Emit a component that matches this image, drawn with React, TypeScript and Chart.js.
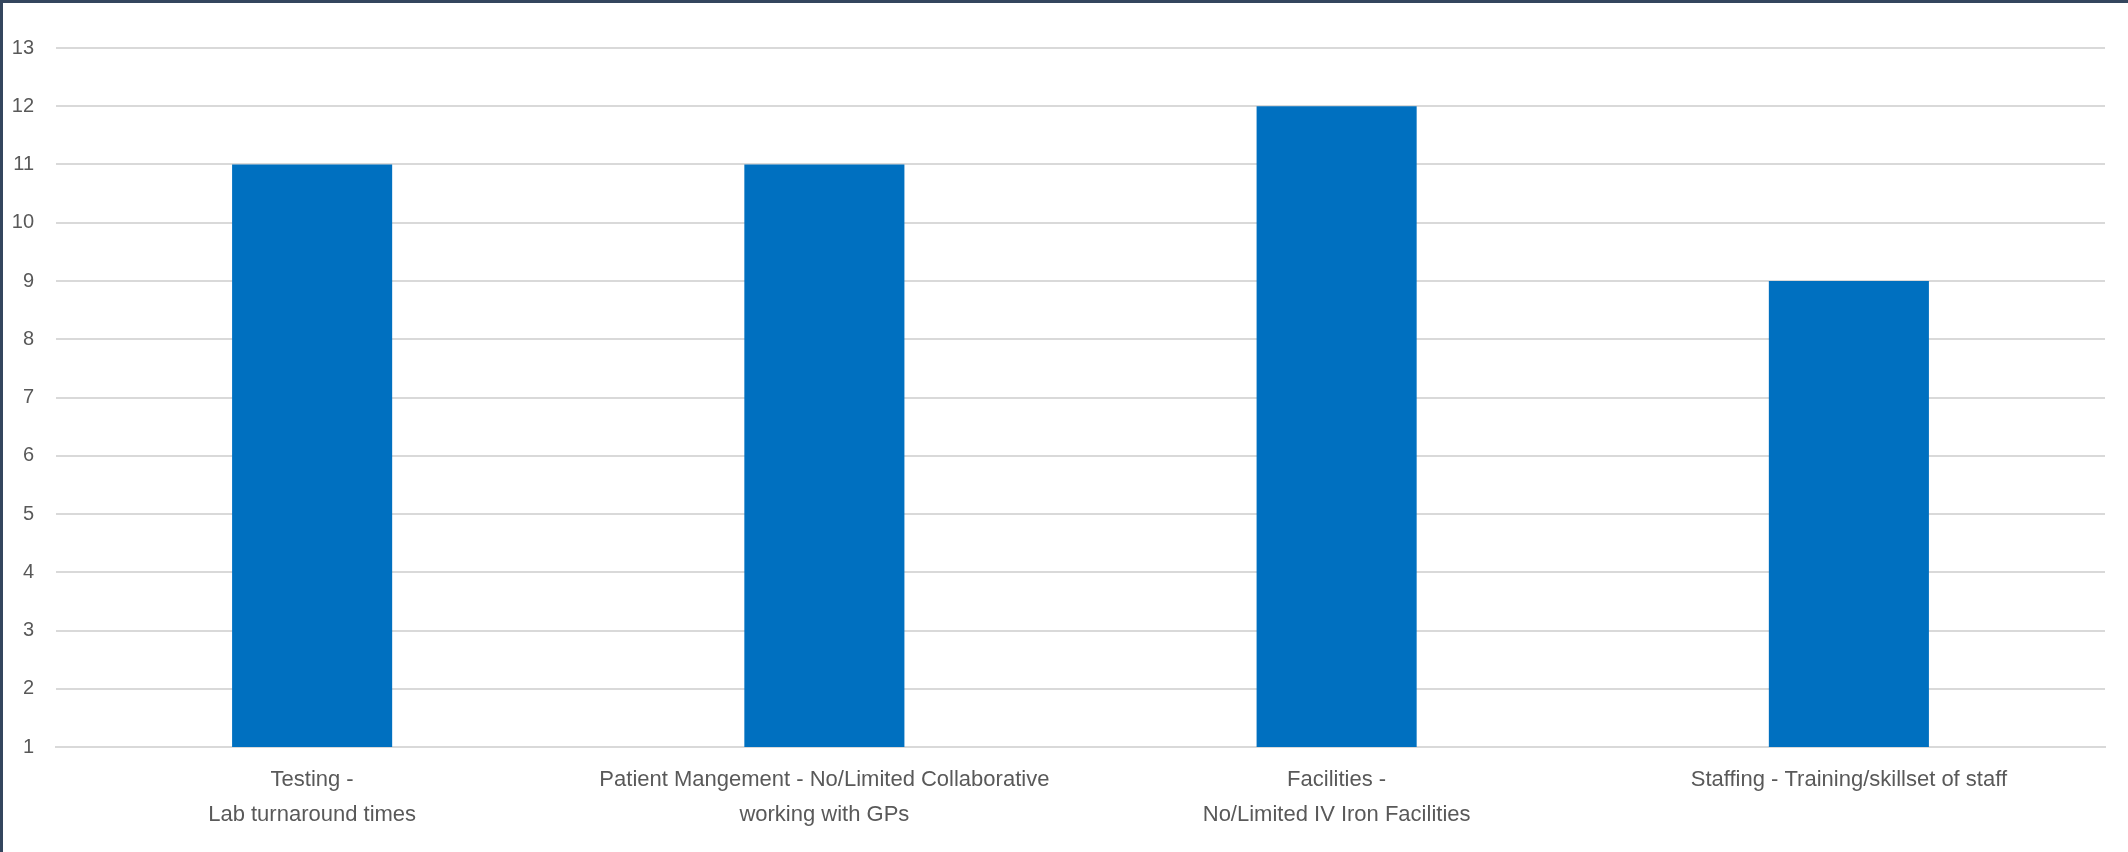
import React, { useEffect, useRef } from "react";
import { Chart, registerables } from "chart.js";

Chart.register(...registerables);

const categories: (string | string[])[] = [
  ["Testing -", "Lab turnaround times"],
  ["Patient Mangement - No/Limited Collaborative", "working with GPs"],
  ["Facilities -", "No/Limited IV Iron Facilities"],
  "Staffing - Training/skillset of staff",
];
const counts: number[] = [11, 11, 12, 9];
const yMin = 1;
const yMax = 13;

const W = 2128;
const H = 852;

export default function App() {
  const ref = useRef<HTMLCanvasElement | null>(null);

  useEffect(() => {
    document.body.style.margin = "0";
    const canvas = ref.current;
    if (!canvas) return;
    const chart = new Chart(canvas, {
      type: "bar",
      data: {
        labels: categories,
        datasets: [
          {
            data: counts,
            backgroundColor: "#0070C0",
            borderWidth: 0,
            barPercentage: 0.3125,
            categoryPercentage: 1,
          },
        ],
      },
      options: {
        responsive: false,
        animation: false,
        devicePixelRatio: 1,
        layout: { padding: { top: 48, right: 23, bottom: 0, left: 0 } },
        plugins: {
          legend: { display: false },
          tooltip: { enabled: false },
        },
        scales: {
          x: {
            grid: { display: false, drawTicks: false },
            border: { display: true, color: "#d9d9d9", width: 2 },
            ticks: {
              color: "#595959",
              font: { family: "'Liberation Sans', Arial, sans-serif", size: 22, lineHeight: "35px" as any },
              padding: 15,
              maxRotation: 0,
              autoSkip: false,
            },
            afterFit: (s: any) => {
              s.height = 105;
            },
          },
          y: {
            min: yMin,
            max: yMax,
            grid: { color: "#d9d9d9", lineWidth: 2, drawTicks: false },
            border: { display: false },
            ticks: {
              stepSize: 1,
              color: "#595959",
              font: { family: "'Liberation Sans', Arial, sans-serif", size: 20 },
              padding: 22,
            },
            afterFit: (s: any) => {
              s.width = 56;
            },
          },
        },
      },
    });
    return () => chart.destroy();
  }, []);

  return (
    <div style={{ position: "absolute", left: 0, top: 0, width: W, height: H, background: "#fff" }}>
      <canvas ref={ref} width={W} height={H} style={{ width: W, height: H, display: "block" }} />
      <div
        style={{
          position: "absolute",
          left: 0,
          top: 0,
          width: W,
          height: H,
          boxSizing: "border-box",
          borderTop: "3px solid #34465e",
          borderLeft: "3px solid #34465e",
          pointerEvents: "none",
        }}
      />
    </div>
  );
}
